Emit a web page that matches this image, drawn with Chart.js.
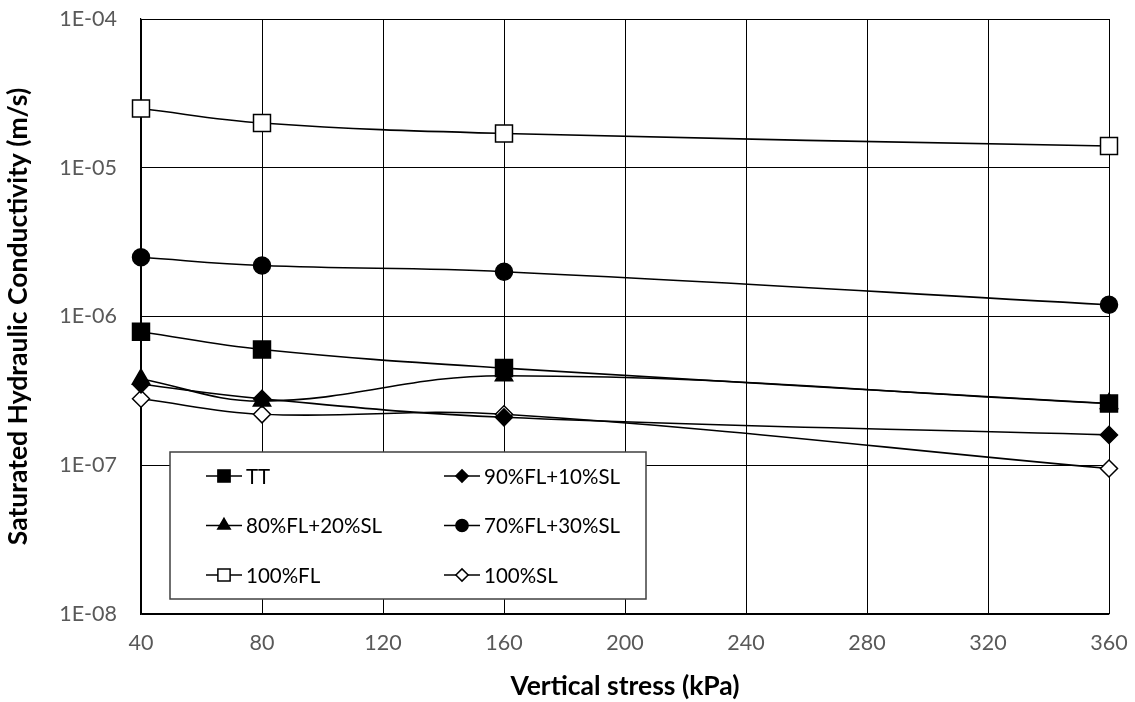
<!DOCTYPE html>
<html>
<head>
<meta charset="utf-8">
<script src="https://cdn.jsdelivr.net/npm/chart.js@4"></script>
<style>
  html, body { margin: 0; padding: 0; background: #fff; }
  #wrap { width: 1135px; height: 702px; }
</style>
</head>
<body>
<div id="wrap"><canvas id="graph" width="1135" height="702"></canvas></div>
<script>
// stress values (kPa)
const stress = [40, 80, 160, 360];

// saturated hydraulic conductivity (m/s)
const tt     = [7.9e-7, 6.0e-7, 4.5e-7, 2.6e-7];
const fl90   = [3.5e-7, 2.8e-7, 2.1e-7, 1.6e-7];
const fl80   = [3.8e-7, 2.7e-7, 4.0e-7, 2.6e-7];
const fl70   = [2.5e-6, 2.2e-6, 2.0e-6, 1.2e-6];
const fl100  = [2.5e-5, 2.0e-5, 1.7e-5, 1.4e-5];
const sl100  = [2.8e-7, 2.2e-7, 2.2e-7, 9.5e-8];

const yTickValues = [1e-8, 1e-7, 1e-6, 1e-5, 1e-4];
const yTickLabels = ['1E-08', '1E-07', '1E-06', '1E-05', '1E-04'];
const xTicks = [40, 80, 120, 160, 200, 240, 280, 320, 360];

const toPoints = arr => arr.map((v, i) => ({ x: stress[i], y: v }));

function series(label, values, style, radius, filled) {
    return {
        label: label,
        data: toPoints(values),
        borderColor: '#000',
        borderWidth: 1.6,
        tension: 0.4,
        clip: false,
        pointStyle: style,
        pointRadius: radius,
        pointHoverRadius: radius,
        pointBorderColor: '#000',
        pointBorderWidth: 1.5,
        pointBackgroundColor: filled ? '#000' : '#fff',
        fill: false
    };
}

const datasets = [
    series('TT', tt, 'rect', 12, true),
    series('90%FL+10%SL', fl90, 'rectRot', 8.5, true),
    series('80%FL+20%SL', fl80, 'triangle', 10, true),
    series('70%FL+30%SL', fl70, 'circle', 8.5, true),
    series('100%FL', fl100, 'rect', 12, false),
    series('100%SL', sl100, 'rectRot', 8.5, false)
];

// legend drawn inside the plot area (bottom-left box)
const boxLegend = {
    id: 'boxLegend',
    afterDraw(chart) {
        const ctx = chart.ctx;
        const a = chart.chartArea;
        const left = a.left + 29, top = a.bottom - 162, w = 476, h = 147;
        ctx.save();
        ctx.fillStyle = '#fff';
        ctx.fillRect(left, top, w, h);
        ctx.strokeStyle = '#404040';
        ctx.lineWidth = 1.5;
        ctx.strokeRect(left, top, w, h);
        ctx.font = '20.5px Lato';
        ctx.textBaseline = 'middle';
        chart.data.datasets.forEach((ds, i) => {
            const col = i % 2, row = Math.floor(i / 2);
            const lx = left + 36 + col * 238;
            const ly = top + 24 + row * 49.5;
            ctx.strokeStyle = '#000';
            ctx.lineWidth = 1.6;
            ctx.beginPath();
            ctx.moveTo(lx, ly);
            ctx.lineTo(lx + 36, ly);
            ctx.stroke();
            ctx.fillStyle = ds.pointBackgroundColor;
            ctx.strokeStyle = '#000';
            ctx.lineWidth = 1.5;
            Chart.helpers.drawPoint(ctx, {
                pointStyle: ds.pointStyle,
                radius: ds.pointRadius * 0.72,
                borderWidth: 1.5,
                rotation: 0
            }, lx + 18, ly);
            ctx.fillStyle = '#000';
            ctx.fillText(ds.label, lx + 40, ly + 1);
        });
        ctx.restore();
    }
};

const ctx = document.getElementById('graph').getContext('2d');

new Chart(ctx, {
    type: 'line',
    data: { datasets: datasets },
    options: {
        responsive: false,
        animation: false,
        events: [],
        layout: { padding: { top: 19, right: 26, left: 0, bottom: 0 } },
        plugins: {
            legend: { display: false },
            tooltip: { enabled: false }
        },
        scales: {
            x: {
                type: 'linear',
                min: 40,
                max: 360,
                afterBuildTicks: s => { s.ticks = xTicks.map(v => ({ value: v })); },
                afterFit: s => { s.height = 88; s.paddingLeft = 0; s.paddingRight = 0; },
                grid: { color: '#000', lineWidth: 1, drawTicks: false },
                border: { color: '#000', width: 1.2 },
                ticks: {
                    color: '#595959',
                    font: { family: 'Lato', size: 21.5 },
                    padding: 16,
                    maxRotation: 0
                },
                title: {
                    display: true,
                    text: 'Vertical stress (kPa)',
                    color: '#000',
                    font: { family: 'Lato', size: 26.5, weight: 'bold' },
                    padding: { top: 0, bottom: 0 }
                }
            },
            y: {
                type: 'logarithmic',
                min: 1e-8,
                max: 1e-4,
                afterBuildTicks: s => { s.ticks = yTickValues.map(v => ({ value: v })); },
                afterFit: s => { s.width = 141; s.paddingTop = 0; s.paddingBottom = 0; },
                grid: { color: '#000', lineWidth: 1, drawTicks: false },
                border: { color: '#000', width: 1.2 },
                ticks: {
                    color: '#595959',
                    font: { family: 'Lato', size: 21.5 },
                    padding: 24,
                    callback: v => {
                        const i = yTickValues.findIndex(t => Math.abs(Math.log10(t) - Math.log10(v)) < 1e-6);
                        return i >= 0 ? yTickLabels[i] : '';
                    }
                },
                title: {
                    display: true,
                    text: 'Saturated Hydraulic Conductivity (m/s)',
                    color: '#000',
                    font: { family: 'Lato', size: 26.5, weight: 'bold' },
                    padding: { top: 3, bottom: 0 }
                }
            }
        }
    },
    plugins: [boxLegend]
});
</script>
</body>
</html>
